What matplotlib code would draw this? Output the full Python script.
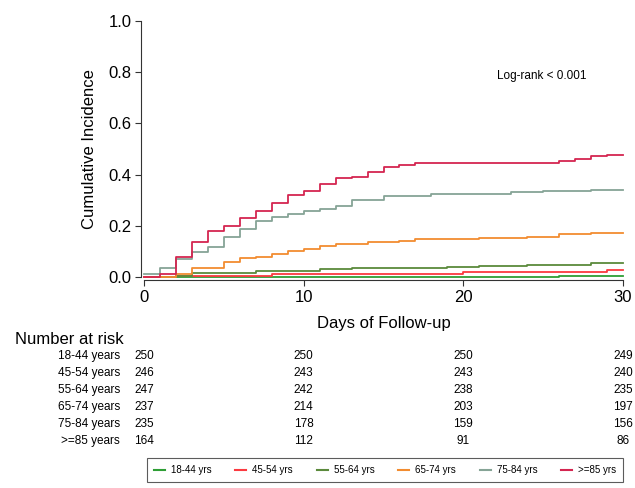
import matplotlib
matplotlib.use("Agg")
import matplotlib.pyplot as plt
from matplotlib.lines import Line2D

plt.rcParams["font.family"] = ["Liberation Sans", "DejaVu Sans"]

# cumulative incidence step curves (day, value)
t_1844 = [0, 26, 30]
v_1844 = [0.0, 0.004, 0.004]
t_4554 = [0, 2, 8, 20, 29, 30]
v_4554 = [0.0, 0.004, 0.012, 0.021, 0.027, 0.027]
t_5564 = [0, 2, 3, 7, 11, 13, 19, 21, 24, 28, 30]
v_5564 = [0.0, 0.004, 0.017, 0.022, 0.031, 0.036, 0.040, 0.044, 0.048, 0.053, 0.053]
t_6574 = [0, 2, 3, 5, 6, 7, 8, 9, 10, 11, 12, 14, 16, 17, 21, 24, 26, 28, 30]
v_6574 = [0.0, 0.010, 0.034, 0.057, 0.073, 0.079, 0.089, 0.102, 0.109, 0.121,
          0.128, 0.135, 0.142, 0.147, 0.152, 0.155, 0.168, 0.173, 0.173]
t_7584 = [0, 1, 2, 3, 4, 5, 6, 7, 8, 9, 10, 11, 12, 13, 15, 18, 23, 25, 28, 30]
v_7584 = [0.012, 0.034, 0.069, 0.099, 0.118, 0.155, 0.186, 0.220, 0.236, 0.246,
          0.258, 0.267, 0.279, 0.299, 0.316, 0.325, 0.331, 0.335, 0.339, 0.339]
t_85 = [0, 1, 2, 3, 4, 5, 6, 7, 8, 9, 10, 11, 12, 13, 14, 15, 16, 17, 26, 27, 28, 29, 30]
v_85 = [0.0, 0.012, 0.077, 0.137, 0.181, 0.198, 0.229, 0.258, 0.290, 0.320, 0.337,
        0.363, 0.385, 0.392, 0.410, 0.428, 0.436, 0.447, 0.455, 0.462, 0.473, 0.477, 0.477]

legend_labels = ["18-44 yrs", "45-54 yrs", "55-64 yrs", "65-74 yrs", "75-84 yrs", ">=85 yrs"]
risk_labels = ["18-44 years", "45-54 years", "55-64 years", "65-74 years", "75-84 years", ">=85 years"]
risk_days = [0, 10, 20, 30]
risk_1844 = [250, 250, 250, 249]
risk_4554 = [246, 243, 243, 240]
risk_5564 = [247, 242, 238, 235]
risk_6574 = [237, 214, 203, 197]
risk_7584 = [235, 178, 159, 156]
risk_85 = [164, 112, 91, 86]

colors = ["#2e9e35", "#fb3a40", "#5b8a3c", "#f28c30", "#86a496", "#d42550"]

curves = [(t_1844, v_1844), (t_4554, v_4554), (t_5564, v_5564),
          (t_6574, v_6574), (t_7584, v_7584), (t_85, v_85)]
risks = [risk_1844, risk_4554, risk_5564, risk_6574, risk_7584, risk_85]

fig = plt.figure(figsize=(6.35, 4.88), dpi=100, facecolor="white")
ax = fig.add_axes([144 / 635, 1 - 277 / 488, 479 / 635, 256 / 488])

for (t, v), c in zip(curves, colors):
    ax.step(t, v, where="post", color=c, lw=1.3, clip_on=False)

ax.set_xlim(0, 30)
ax.set_ylim(0, 1)
ax.spines["top"].set_visible(False)
ax.spines["right"].set_visible(False)
ax.spines["left"].set_position(("outward", 2))
ax.spines["bottom"].set_position(("outward", 2))
ax.spines["left"].set_color("#333333")
ax.spines["bottom"].set_color("#333333")
ax.set_xticks([0, 10, 20, 30])
ax.set_yticks([0, 0.2, 0.4, 0.6, 0.8, 1.0])
ax.set_yticklabels(["0.0", "0.2", "0.4", "0.6", "0.8", "1.0"])
ax.tick_params(labelsize=12, length=4, color="#333333", pad=3)
ax.set_xlabel("Days of Follow-up", fontsize=12, labelpad=8)
ax.set_ylabel("Cumulative Incidence", fontsize=12, labelpad=8)
ax.text(0.737, 0.775, "Log-rank < 0.001", transform=ax.transAxes, fontsize=8.5)

# number at risk table
fig.text(15 / 635, 1 - 340 / 488, "Number at risk", fontsize=12, va="center")
for i, (lab, r) in enumerate(zip(risk_labels, risks)):
    y = 1 - (356 + 17 * i) / 488
    fig.text(120 / 635, y, lab, fontsize=8.5, ha="right", va="center")
    for d, n in zip(risk_days, r):
        xf = ax.transAxes.inverted().transform(ax.transData.transform((d, 0)))[0]
        xfig = (144 + xf * 479) / 635
        fig.text(xfig, y, str(n), fontsize=8.5, ha="center", va="center")

handles = [Line2D([0], [0], color=c, lw=1.5) for c in colors]
leg = fig.legend(handles, legend_labels, loc="center", ncol=6,
                 bbox_to_anchor=(385 / 635, 1 - 470 / 488), fontsize=7,
                 frameon=True, fancybox=False, edgecolor="#333333",
                 handlelength=1.15, columnspacing=2.45, handletextpad=0.6,
                 borderpad=0.7)
leg.get_frame().set_linewidth(0.8)

fig.savefig("out.png", dpi=100)
